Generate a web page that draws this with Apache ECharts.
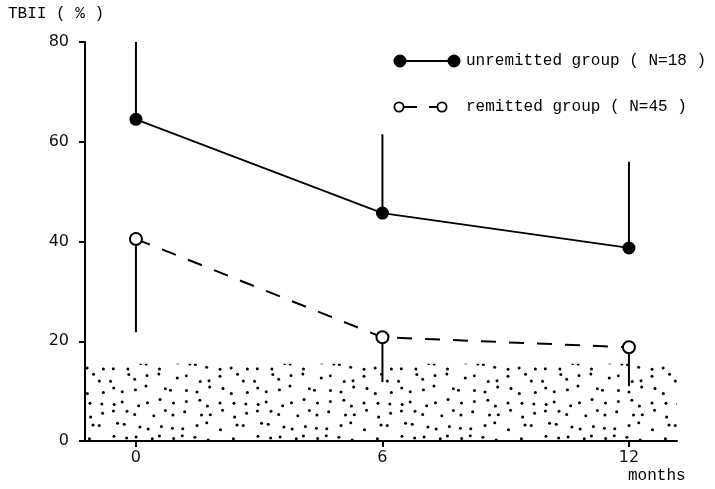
<!DOCTYPE html>
<html><head><meta charset="utf-8">
<script src="https://cdn.jsdelivr.net/npm/echarts@6/dist/echarts.min.js"></script>
<style>html,body{margin:0;padding:0;background:#fff}#c{width:715px;height:489px}</style>
</head><body><div id="c"></div>
<script>
// ---- data ----
const months = [0, 6, 12];
const unremittedMean = [64.5, 45.7, 38.7];
const unremittedUpper = [80, 61.5, 56];
const remittedMean = [40.5, 20.8, 18.8];
const remittedLower = [21.8, 11.8, 11];
const normalUpper = 15.5;
const xTickValues = [0, 6, 12];
const seriesNames = ['unremitted group ( N=18 )', 'remitted group ( N=45 )'];
const yTitle = 'TBII ( % )';
const xTitle = 'months';

// ---- stipple texture (style only) ----
function stippleTexture() {
  const c = document.createElement('canvas');
  c.width = 144; c.height = 96;
  const g = c.getContext('2d');
  g.fillStyle = '#000';
  const step = 12;
  for (let i = 0; i < 12; i++) {
    for (let j = 0; j < 8; j++) {
      const h1 = Math.abs(Math.sin(i * 12.9898 + j * 78.233) * 43758.5453) % 1;
      const h2 = Math.abs(Math.sin(i * 39.346 + j * 11.135) * 24634.6345) % 1;
      const x = i * step + 6 + (h1 - 0.5) * 8;
      const y = j * step + 6 + (h2 - 0.5) * 8;
      g.beginPath(); g.arc(x, y, 1.5, 0, Math.PI * 2); g.fill();
    }
  }
  return c;
}

function errorSeries(name, means, ends) {
  return {
    type: 'custom', name: name, silent: true, z: 1,
    data: months.map((m, i) => [m, means[i], ends[i]]),
    encode: { x: 0, y: [1, 2] },
    renderItem: (params, api) => {
      const p1 = api.coord([api.value(0), api.value(1)]);
      const p2 = api.coord([api.value(0), api.value(2)]);
      return { type: 'line', shape: { x1: p1[0], y1: p1[1], x2: p2[0], y2: p2[1] },
               style: { stroke: '#000', lineWidth: 2 } };
    }
  };
}

const iconFilled = 'path://M0.5,7 A6.5,6.5 0 1,1 13.5,7 A6.5,6.5 0 1,1 0.5,7 Z ' +
  'M54.5,7 A6.5,6.5 0 1,1 67.5,7 A6.5,6.5 0 1,1 54.5,7 Z ' +
  'M13,6 L55,6 L55,8 L13,8 Z M0,0 L0.01,0 L0,0.01 Z M68,14 L67.99,14 L68,13.99 Z';
const iconOpen = 'path://M0.5,7 A5.5,5.5 0 1,1 11.5,7 A5.5,5.5 0 1,1 0.5,7 Z ' +
  'M2.3,7 A3.7,3.7 0 1,0 9.7,7 A3.7,3.7 0 1,0 2.3,7 Z ' +
  'M11.5,6 L24,6 L24,8 L11.5,8 Z M36,6 L43.5,6 L43.5,8 L36,8 Z ' +
  'M43.5,7 A5.5,5.5 0 1,1 54.5,7 A5.5,5.5 0 1,1 43.5,7 Z ' +
  'M45.3,7 A3.7,3.7 0 1,0 52.7,7 A3.7,3.7 0 1,0 45.3,7 Z ' +
  'M0,0 L0.01,0 L0,0.01 Z M68,14 L67.99,14 L68,13.99 Z';

const chart = echarts.init(document.getElementById('c'));
chart.setOption({
  backgroundColor: '#fff',
  animation: false,
  grid: { left: 85, right: 38, top: 42, bottom: 48 },
  legend: {
    orient: 'vertical', left: 388, top: 48,
    itemWidth: 68, itemHeight: 14, itemGap: 30,
    textStyle: { fontFamily: 'Liberation Mono', fontSize: 16, color: '#000' },
    itemStyle: { color: '#000', borderWidth: 0 },
    data: [ { name: seriesNames[0], icon: iconFilled }, { name: seriesNames[1], icon: iconOpen } ]
  },
  graphic: [
    { type: 'text', left: 8, top: 6, style: { text: yTitle, font: '16px "Liberation Mono"', fill: '#000' } },
    { type: 'text', left: 628, top: 468, style: { text: xTitle, font: '16px "Liberation Mono"', fill: '#000' } }
  ],
  xAxis: {
    type: 'value', min: -1.24, max: 13.17,
    axisLine: { show: true, onZero: false, lineStyle: { color: '#000', width: 2 } },
    axisTick: { show: true, customValues: xTickValues, length: 6, lineStyle: { color: '#000', width: 2 } },
    axisLabel: { customValues: xTickValues, margin: 9, fontFamily: 'DejaVu Sans', fontSize: 16, color: '#111' },
    splitLine: { show: false }
  },
  yAxis: {
    type: 'value', min: 0, max: 80, interval: 20,
    axisLine: { show: true, onZero: false, lineStyle: { color: '#000', width: 2 } },
    axisTick: { show: true, length: 6, lineStyle: { color: '#000', width: 2 } },
    axisLabel: { margin: 16, fontFamily: 'DejaVu Sans', fontSize: 16, color: '#111' },
    splitLine: { show: false }
  },
  series: [
    errorSeries('unremitted SD', unremittedMean, unremittedUpper),
    errorSeries('remitted SD', remittedMean, remittedLower),
    {
      name: seriesNames[0], type: 'line', z: 3,
      data: months.map((m, i) => [m, unremittedMean[i]]),
      symbol: 'circle', symbolSize: 13,
      itemStyle: { color: '#000' },
      lineStyle: { color: '#000', width: 1.8 }
    },
    {
      name: seriesNames[1], type: 'line', z: 3,
      data: months.map((m, i) => [m, remittedMean[i]]),
      symbol: 'emptyCircle', symbolSize: 12,
      itemStyle: { color: '#000', borderWidth: 2 },
      lineStyle: { color: '#000', width: 2, type: [15, 13] },
      markArea: {
        silent: true,
        itemStyle: { color: { image: stippleTexture(), repeat: 'repeat' } },
        data: [[ { yAxis: 0 }, { yAxis: normalUpper } ]]
      }
    }
  ]
});
</script></body></html>
